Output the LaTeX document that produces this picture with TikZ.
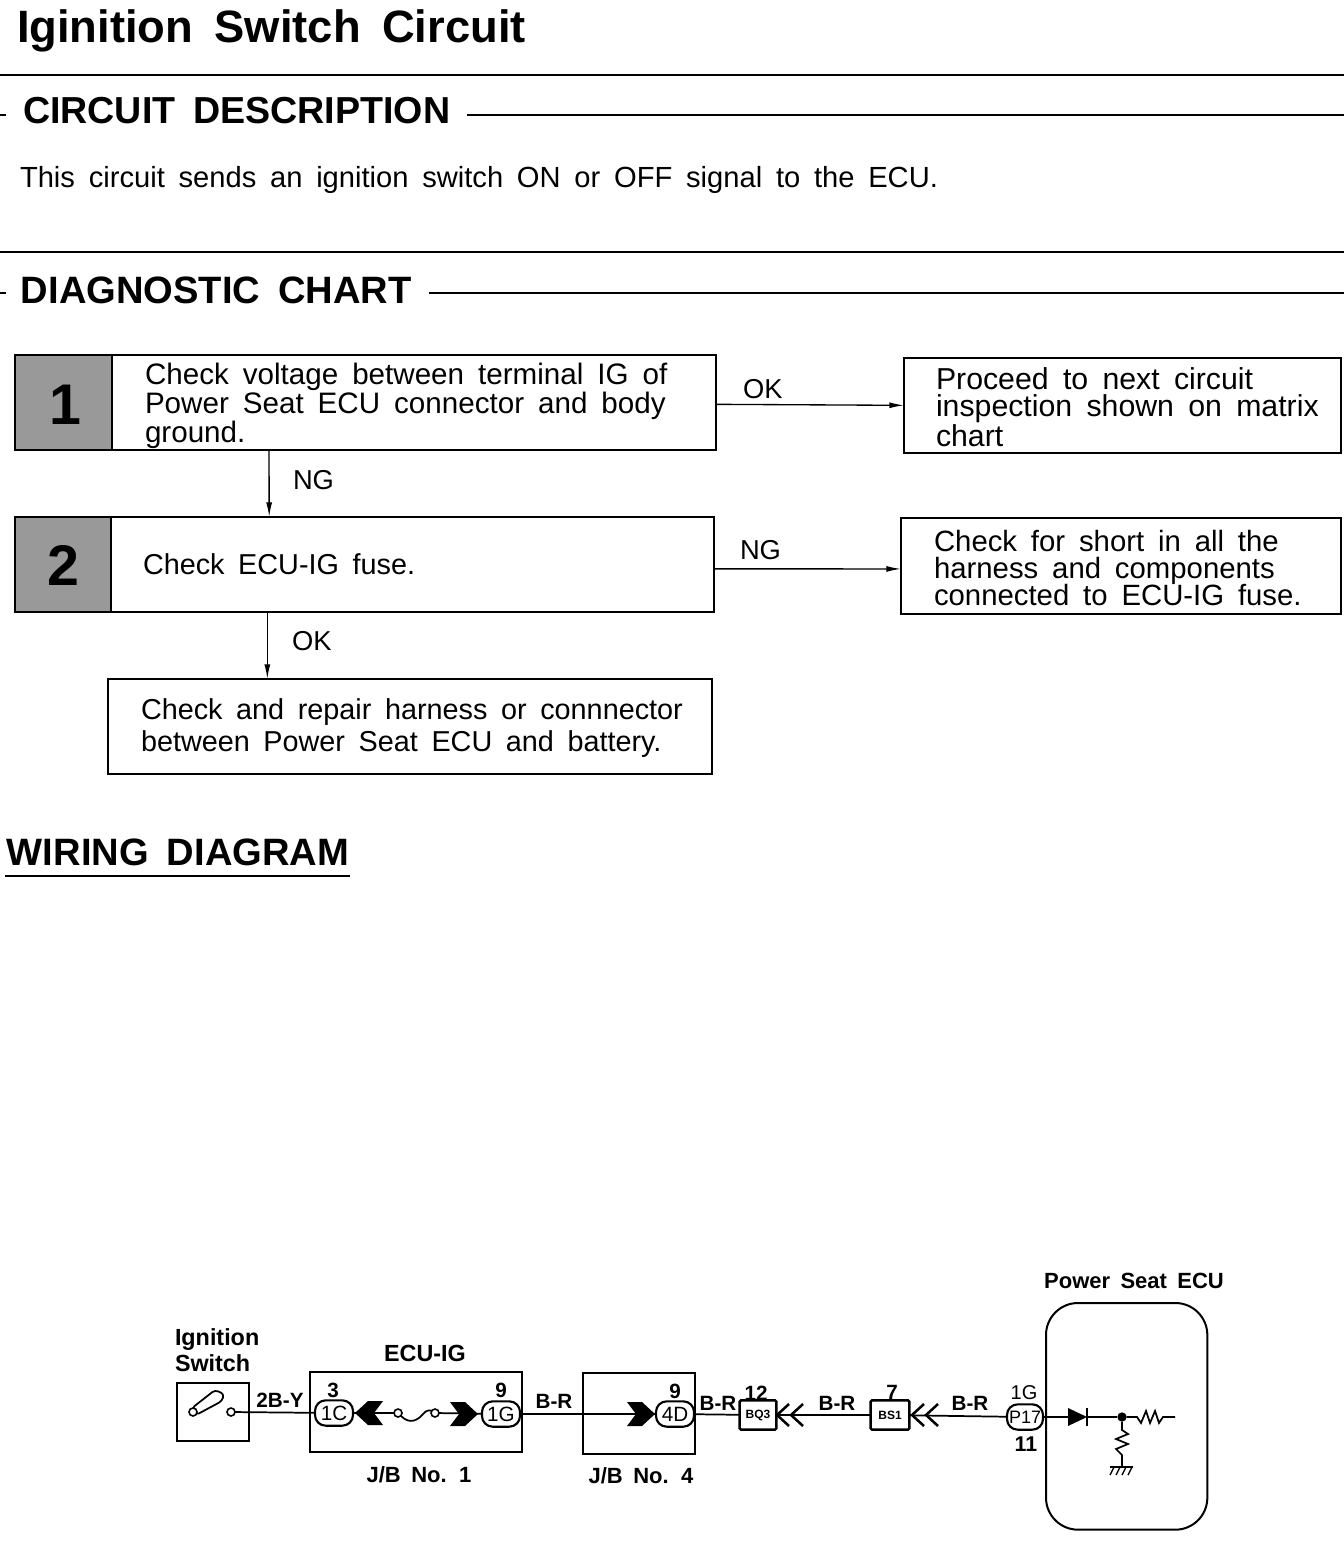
\documentclass[tikz,border=0pt]{standalone}
\usepackage{fontspec}
\setmainfont{Liberation Sans}[WordSpace=1.7]
\usetikzlibrary{positioning, arrows.meta}

\begin{document}
\begin{tikzpicture}[x=0.75pt,y=-0.75pt,
        every node/.style={inner sep=0pt,outer sep=0pt},
        stepbox/.style={rectangle,draw=black,line width=1.5pt,anchor=north west},
        numbox/.style={stepbox,fill=black!40},
        digit/.style={font=\bfseries\fontsize{43}{43}\selectfont},
        chart/.style={align=left,anchor=west,font=\fontsize{#1}{20.6}\selectfont},
        chart/.default=22,
        flow/.style={line width=1pt,-{Latex[length=11pt,width=4.5pt]}},
        heading/.style={anchor=west,font=\bfseries\fontsize{28.6}{28.6}\selectfont},
        wirelabel/.style={font=\bfseries\fontsize{15.5}{15.5}\selectfont},
        partlabel/.style={font=\bfseries\fontsize{#1}{19.5}\selectfont},
        partlabel/.default=16.5,
        pin/.style={rounded corners=8pt,draw=black,line width=1.6pt,fill=white,minimum width=28.5pt,minimum height=19pt,font=\fontsize{15.5}{15.5}\selectfont},
        plug/.style={rectangle,rounded corners=1pt,draw=black,line width=1.8pt,fill=white,minimum width=27.5pt,minimum height=22pt,font=\bfseries\fontsize{9}{9}\selectfont},
        dot/.style={circle,draw=black,line width=1.2pt,fill=white,minimum size=6pt},
        wire/.style={line width=1.3pt},
        rule/.style={line width=1pt},
        femaleplug/.pic={\fill[black] (0,0) -- (-13,-12) -- (-28,-12) -- (-19,0) -- (-28,12) -- (-13,12) -- cycle;},
        maleplug/.pic={\draw[line width=1.9pt] (12,-11) -- (0,0) -- (12,11) (26,-11) -- (14,0) -- (26,11);}]
    \useasboundingbox (0,0) rectangle (1344,1544);

    % headings
    \node[heading,font=\bfseries\fontsize{34}{34}\selectfont] (title) at (17,31) {Iginition Switch Circuit};
    \draw[rule] (0,75) -- (1344,75);
    \node[heading,font=\bfseries\fontsize{28.2}{28.2}\selectfont] (desc) at (23,111) {CIRCUIT DESCRIPTION};
    \draw[rule] (0,115) -- (6,115);
    \draw[rule] (467,115) -- (1344,115);
    \node[chart=21.85] (desctext) at (20,180) {This circuit sends an ignition switch ON or OFF signal to the ECU.};
    \draw[rule] (0,252) -- (1344,252);
    \node[heading] (diag) at (21,290) {DIAGNOSTIC CHART};
    \draw[rule] (0,293) -- (6,293);
    \draw[rule] (429,293) -- (1344,293);

    % chart
    \node[numbox,minimum width=72.5pt,minimum height=71pt] (num1) at (15,355) {};
    \node[stepbox,minimum width=453pt,minimum height=71pt] (box1) at (112,355) {};
    \node[digit] (digit1) at (65,405) {1};
    \node[chart=22.2] (text1) at (145,406) {Check voltage between terminal IG of\\Power Seat ECU connector and body\\ground.};
    \node[numbox,minimum width=72pt,minimum height=71pt] (num2) at (15,517) {};
    \node[stepbox,minimum width=452.5pt,minimum height=71pt] (box2) at (111,517) {};
    \node[digit] (digit2) at (63,565) {2};
    \node[chart=21.6] (text2) at (143,564) {Check ECU-IG fuse.};
    \node[stepbox,minimum width=328pt,minimum height=71pt] (boxok) at (904,358) {};
    \node[chart=22.7] (textok) at (936,407) {Proceed to next circuit\\inspection shown on matrix\\chart};
    \node[stepbox,minimum width=330pt,minimum height=72pt] (boxng) at (901,518) {};
    \node[chart] (textng) at (934,568) {Check for short in all the\\harness and components\\connected to ECU-IG fuse.};
    \node[stepbox,minimum width=453pt,minimum height=71pt] (box3) at (108,679) {};
    \node[chart=21.6] (text3) at (141,728) {Check and repair harness or connnector\\[4pt]between Power Seat ECU and battery.};

    \path[flow] ([yshift=-1.5pt]box1.east) edge (boxok.west)
                ([yshift=-3.4pt]box2.east) edge ([yshift=-2.2pt]boxng.west)
                ([xshift=-108.75pt]box1.south) edge ([xshift=-107.6pt]box2.north)
                ([xshift=-109pt]box2.south) edge ([xshift=-107pt]box3.north);
    \node[chart=20.5] (lok1) at (743,389) {OK};
    \node[chart=20.5] (lng1) at (293,480) {NG};
    \node[chart=20.5] (lng2) at (740,550) {NG};
    \node[chart=20.5] (lok2) at (292,641) {OK};

    \node[heading] (wiring) at (7,852) {WIRING DIAGRAM};
    \draw[line width=1.4pt] (5,876) -- (350,876);

    % wiring diagram
    \node[stepbox,minimum width=54pt,minimum height=43.5pt] (switch) at (177,1383) {};
    \node[stepbox,minimum width=159pt,minimum height=60pt] (jb1) at (310,1372) {};
    \node[stepbox,minimum width=84pt,minimum height=61pt] (jb4) at (583,1373) {};
    \node[stepbox,minimum width=121pt,minimum height=170pt,rounded corners=24pt] (ecu) at (1046,1303) {};

    \draw[line width=1.3pt,fill=white,rounded corners=2.5pt] (192,1408) -- (215,1390) -- (224,1394) -- (222,1401) -- (196,1415) -- cycle;
    \node[dot] (pivot) at (193,1412) {};
    \node[dot] (contact) at (231,1412) {};
    \node[pin] (p1c) at (334,1413) {1C};
    \node[pin] (p1g) at (501,1414) {1G};
    \node[pin] (p4d) at (675,1414) {4D};
    \node[pin,minimum width=27pt,font=\fontsize{13.5}{13.5}\selectfont] (p17) at (1025,1417) {P17};
    \node[plug] (bq3) at (758,1415) {BQ3};
    \node[plug,minimum width=29pt] (bs1) at (890,1415) {BS1};
    \node[dot] (fusel) at (398,1413) {};
    \node[dot] (fuser) at (435,1413) {};
    \coordinate (ecuin) at (1045,1417);
    \coordinate (diodea) at (1068,1417);
    \coordinate (diodek) at (1087,1417);
    \node[circle,fill=black,minimum size=7pt] (junction) at (1122,1417) {};
    \coordinate (rend) at (1175,1417);
    \coordinate (gnd) at (1122,1467);

    \path[wire] (contact) edge (p1c)
                (p1c) edge (fusel)
                (fuser) edge (p1g)
                (p1g) edge (p4d)
                (p4d) edge (bq3)
                (bq3) edge (bs1)
                (bs1) edge (p17)
                (p17) edge (ecuin)
                (ecuin) edge (diodea)
                (diodek) edge (junction);
    \draw[wire] (fusel) .. controls (410,1425) and (418,1420) .. (423,1414) .. controls (426,1410) and (430,1410) .. (fuser);
    \pic at (355,1413) [xscale=-1] {femaleplug};
    \pic at (478,1414) {femaleplug};
    \pic at (655,1414) {femaleplug};
    \pic at (777,1415) {maleplug};
    \pic at (912,1415) {maleplug};
    % diode and resistors in the ECU
    \fill[black] (diodea) ++(0,-9) -- (diodek) -- (1068,1426) -- cycle;
    \draw[line width=1.6pt] (1087,1408) -- (1087,1426);
    \draw[wire] (junction) -- (1137,1417) -- (1141,1423) -- (1146,1411) -- (1150,1423) -- (1155,1411) -- (1159,1423) -- (1163,1417) -- (rend);
    \draw[wire] (junction) -- (1122,1430) -- (1128,1434) -- (1116,1439) -- (1128,1444) -- (1116,1449) -- (1122,1455) -- (gnd);
    \draw[wire] (1110,1467) -- (1133,1467);
    \foreach \hatchx in {1114,1120,1126,1132} {
        \draw[line width=1pt] (\hatchx,1467) -- ++(-4,8);
    }

    \foreach \labeltext/\labelx/\labely in {2B-Y/280/1400,B-R/554/1401,B-R/718/1403,B-R/837/1403,B-R/970/1403,3/333/1390,9/501/1390,9/675/1391,12/756/1393,7/892/1392} {
        \node[wirelabel] at (\labelx,\labely) {\labeltext};
    }
    \node[wirelabel,font=\fontsize{15}{15}\selectfont] (n1g) at (1024,1393) {1G};
    \node[wirelabel,font=\bfseries\fontsize{16}{16}\selectfont] (n11) at (1026,1444) {11};
    \node[partlabel=17.5] (lfuse) at (425,1353) {ECU-IG};
    \node[partlabel] (ljb1) at (419,1475) {J/B No. 1};
    \node[partlabel] (ljb4) at (641,1476) {J/B No. 4};
    \node[partlabel] (lecu) at (1134,1281) {Power Seat ECU};
    \node[partlabel=17.5,align=left,anchor=west] (lswitch) at (175,1350) {Ignition\\Switch};
\end{tikzpicture}
\end{document}
